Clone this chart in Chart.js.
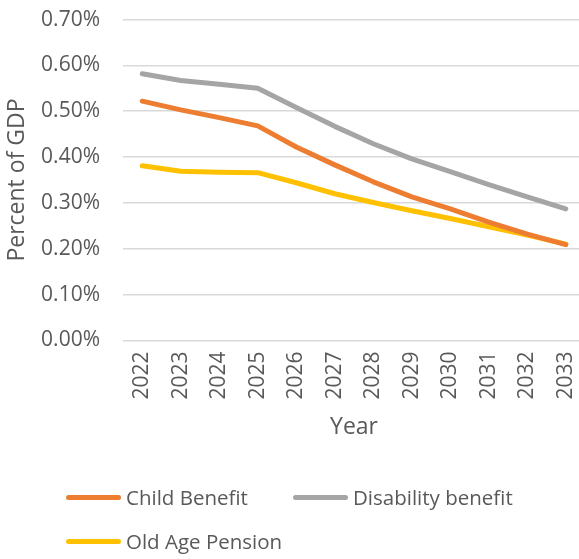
<!DOCTYPE html>
<html>
<head>
<meta charset="utf-8">
<script src="https://cdn.jsdelivr.net/npm/chart.js@4.4.1/dist/chart.umd.min.js"></script>
<style>
  html, body { margin: 0; padding: 0; background: #fff; }
  #wrap { position: relative; width: 579px; height: 559px; overflow: hidden; }
  canvas { display: block; position: absolute; left: 0; top: -16px; }
  #legend {
    position: absolute; left: 66px; top: 484px;
    display: grid; grid-template-columns: 227px auto; row-gap: 18px;
    font-family: "Open Sans", sans-serif; font-size: 20.5px; color: #595959;
  }
  .item { display: flex; align-items: center; height: 26px; white-space: nowrap; }
  .swatch { width: 55px; height: 5px; border-radius: 3px; margin-right: 5px; }
</style>
</head>
<body>
<div id="wrap">
  <canvas id="cl_chart" width="602" height="575"></canvas>
  <div id="legend"></div>
</div>
<script>
// values, percent of GDP
var years = ["2022", "2023", "2024", "2025", "2026", "2027", "2028", "2029", "2030", "2031", "2032", "2033"];
var childBenefit = [0.522, 0.503, 0.486, 0.468, 0.422, 0.383, 0.346, 0.313, 0.287, 0.258, 0.232, 0.209];
var disabilityBenefit = [0.582, 0.567, 0.559, 0.550, 0.508, 0.467, 0.429, 0.396, 0.368, 0.340, 0.313, 0.287];
var oldAgePension = [0.381, 0.369, 0.367, 0.366, 0.344, 0.320, 0.301, 0.283, 0.266, 0.248, 0.230, 0.210];

var textColor = "#595959";
var fontFam = "'Open Sans', sans-serif";

function line(label, data, color) {
    return {
        label: label,
        data: data,
        borderColor: color,
        backgroundColor: color,
        borderWidth: 5,
        borderCapStyle: "round",
        borderJoinStyle: "round",
        pointRadius: 0,
        tension: 0,
    };
}

var mainchart = new Chart("cl_chart", {
    type: "line",
    data: {
        labels: years,
        datasets: [
            line("Child Benefit", childBenefit, "#ED7D31"),
            line("Disability benefit", disabilityBenefit, "#A5A5A5"),
            line("Old Age Pension", oldAgePension, "#FFC000"),
        ],
    },
    options: {
        responsive: false,
        animation: false,
        layout: { autoPadding: false, padding: { top: 2, left: 4, right: 0, bottom: 118 } },
        plugins: {
            legend: { display: false },
            tooltip: { enabled: false },
        },
        scales: {
            x: {
                offset: true,
                grid: { display: false, drawTicks: false },
                border: { display: false },
                ticks: {
                    color: textColor,
                    font: { family: fontFam, size: 21 },
                    minRotation: 90,
                    maxRotation: 90,
                    padding: 11,
                },
                title: {
                    display: true,
                    text: "Year",
                    color: textColor,
                    font: { family: fontFam, size: 23 },
                    padding: { top: 3, bottom: 0 },
                },
            },
            y: {
                min: 0,
                max: 0.7,
                afterFit: function (scale) { scale.width = 119; },
                grid: { color: "#D9D9D9", lineWidth: 1.5, drawTicks: false },
                border: { display: false },
                ticks: {
                    stepSize: 0.1,
                    color: textColor,
                    font: { family: fontFam, size: 21 },
                    padding: 23,
                    callback: function (v) { return v.toFixed(2) + "%"; },
                },
                title: {
                    display: true,
                    text: "Percent of GDP",
                    color: textColor,
                    font: { family: fontFam, size: 23 },
                    padding: { top: 0, bottom: 0 },
                },
            },
        },
    },
});

// legend built from the datasets
var legendEl = document.getElementById("legend");
mainchart.data.datasets.forEach(function (ds) {
    var item = document.createElement("div");
    item.className = "item";
    var sw = document.createElement("span");
    sw.className = "swatch";
    sw.style.background = ds.borderColor;
    var txt = document.createElement("span");
    txt.textContent = ds.label;
    item.appendChild(sw);
    item.appendChild(txt);
    legendEl.appendChild(item);
});
</script>
</body>
</html>
